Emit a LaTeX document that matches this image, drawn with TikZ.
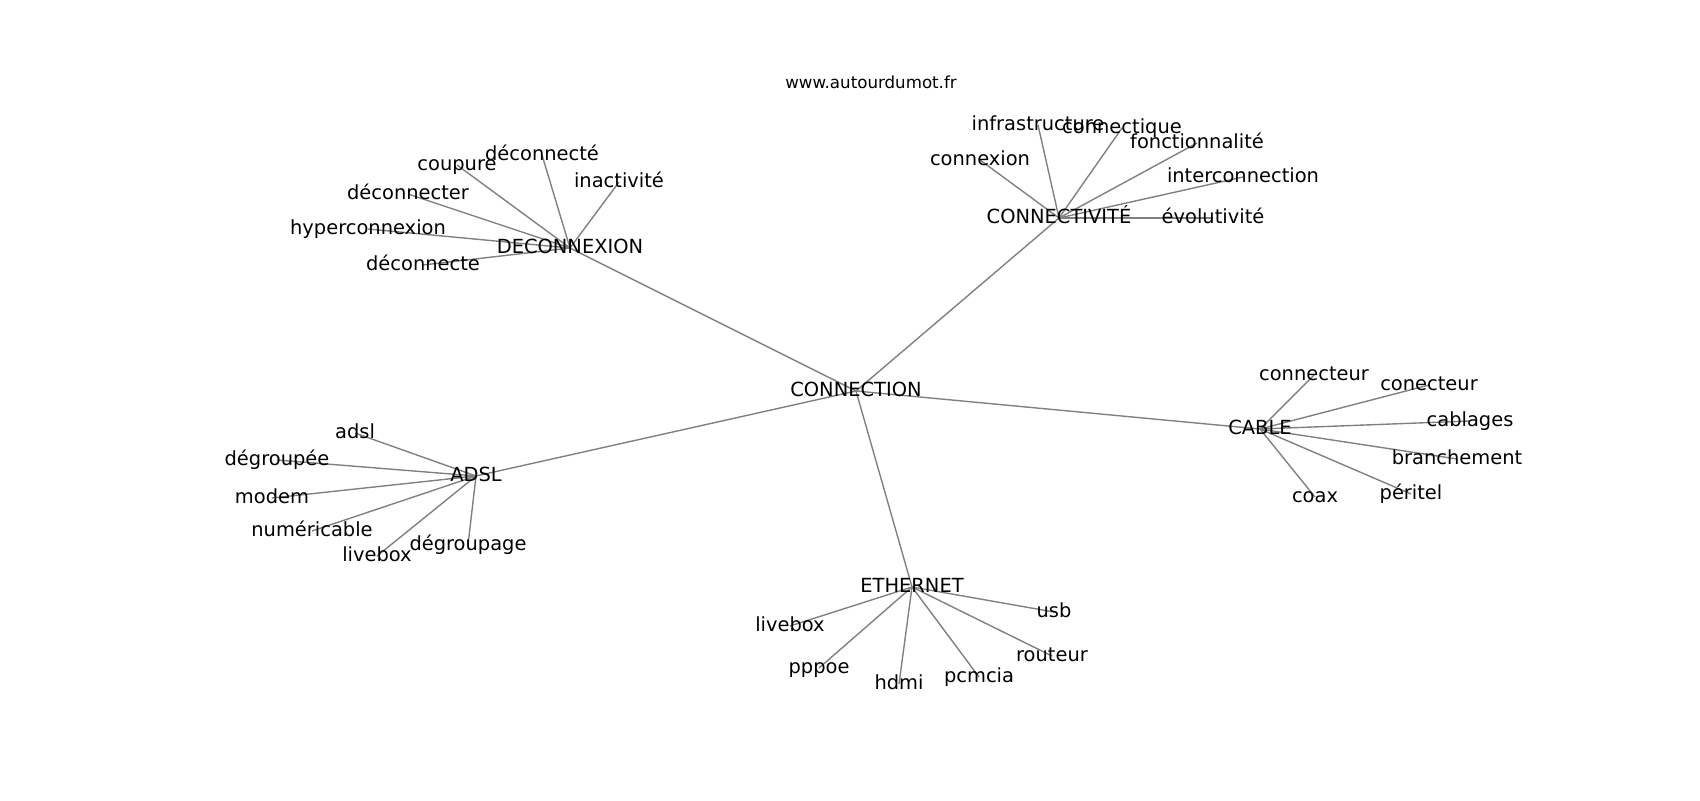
\documentclass[tikz,border=0pt]{standalone}
\usepackage{fontspec}
\setmainfont{DejaVu Sans}
\usetikzlibrary{backgrounds}
\definecolor{edgegray}{HTML}{808080}
\tikzset{
  lbl/.style={font=\fontsize{14pt}{17pt}\selectfont, inner sep=0pt, outer sep=0pt,
    text height=10.64pt, text depth=3.3pt, anchor=center, text=black},
  ttl/.style={font=\fontsize{12pt}{14pt}\selectfont, inner sep=0pt, outer sep=0pt,
    text height=9.12pt, text depth=2.83pt, anchor=center, text=black},
  link/.style={draw=edgegray, line width=1pt}
}
\begin{document}
\begin{tikzpicture}[x=0.72pt,y=-0.72pt]
\useasboundingbox (0,0) rectangle (1700,800);

\node[ttl] (title) at (871,84) {www.autourdumot.fr};

% hubs
\node[lbl] (conn) at (856,391) {CONNECTION};
\node[lbl] (decon) at (570,248) {DECONNEXION};
\node[lbl] (connect) at (1059,218) {CONNECTIVITÉ};
\node[lbl] (adslH) at (476,476) {ADSL};
\node[lbl] (cable) at (1260,429) {CABLE};
\node[lbl] (eth) at (912,587) {ETHERNET};

% DECONNEXION leaves
\node[lbl] (coupure) at (457,165) {coupure};
\node[lbl] (deconnecte1) at (542,155) {déconnecté};
\node[lbl] (inactivite) at (619,182) {inactivité};
\node[lbl] (deconnecter) at (408,194) {déconnecter};
\node[lbl] (hyper) at (368,229) {hyperconnexion};
\node[lbl] (deconnecte2) at (423,265) {déconnecte};

% CONNECTIVITE leaves
\node[lbl] (infra) at (1038,125) {infrastructure};
\node[lbl] (connectique) at (1122,128) {connectique};
\node[lbl] (fonction) at (1197,143) {fonctionnalité};
\node[lbl] (connexion) at (980,160) {connexion};
\node[lbl] (inter) at (1243,177) {interconnection};
\node[lbl] (evol) at (1213,218) {évolutivité};

% ADSL leaves
\node[lbl] (adsl) at (355,433) {adsl};
\node[lbl] (degroupee) at (277,460) {dégroupée};
\node[lbl] (modem) at (272,498) {modem};
\node[lbl] (numeri) at (312,531) {numéricable};
\node[lbl] (livebox1) at (377,556) {livebox};
\node[lbl] (degroupage) at (468,545) {dégroupage};

% CABLE leaves
\node[lbl] (connecteur) at (1314,375) {connecteur};
\node[lbl] (conecteur) at (1429,385) {conecteur};
\node[lbl] (cablages) at (1470,421) {cablages};
\node[lbl] (branchement) at (1457,459) {branchement};
\node[lbl] (peritel) at (1411,494) {péritel};
\node[lbl] (coax) at (1315,497) {coax};

% ETHERNET leaves
\node[lbl] (livebox2) at (790,626) {livebox};
\node[lbl] (pppoe) at (819,668) {pppoe};
\node[lbl] (hdmi) at (899,684) {hdmi};
\node[lbl] (pcmcia) at (979,677) {pcmcia};
\node[lbl] (routeur) at (1052,656) {routeur};
\node[lbl] (usb) at (1054,612) {usb};

\begin{scope}[on background layer]
  \fill[white] (0,0) rectangle (1700,800);
  \foreach \h in {decon,connect,adslH,cable,eth}
    \draw[link] (conn.center) -- (\h.center);
  \foreach \l in {coupure,deconnecte1,inactivite,deconnecter,hyper,deconnecte2}
    \draw[link] (decon.center) -- (\l.center);
  \foreach \l in {infra,connectique,fonction,connexion,inter,evol}
    \draw[link] (connect.center) -- (\l.center);
  \foreach \l in {adsl,degroupee,modem,numeri,livebox1,degroupage}
    \draw[link] (adslH.center) -- (\l.center);
  \foreach \l in {connecteur,conecteur,cablages,branchement,peritel,coax}
    \draw[link] (cable.center) -- (\l.center);
  \foreach \l in {livebox2,pppoe,hdmi,pcmcia,routeur,usb}
    \draw[link] (eth.center) -- (\l.center);
\end{scope}
\end{tikzpicture}
\end{document}
